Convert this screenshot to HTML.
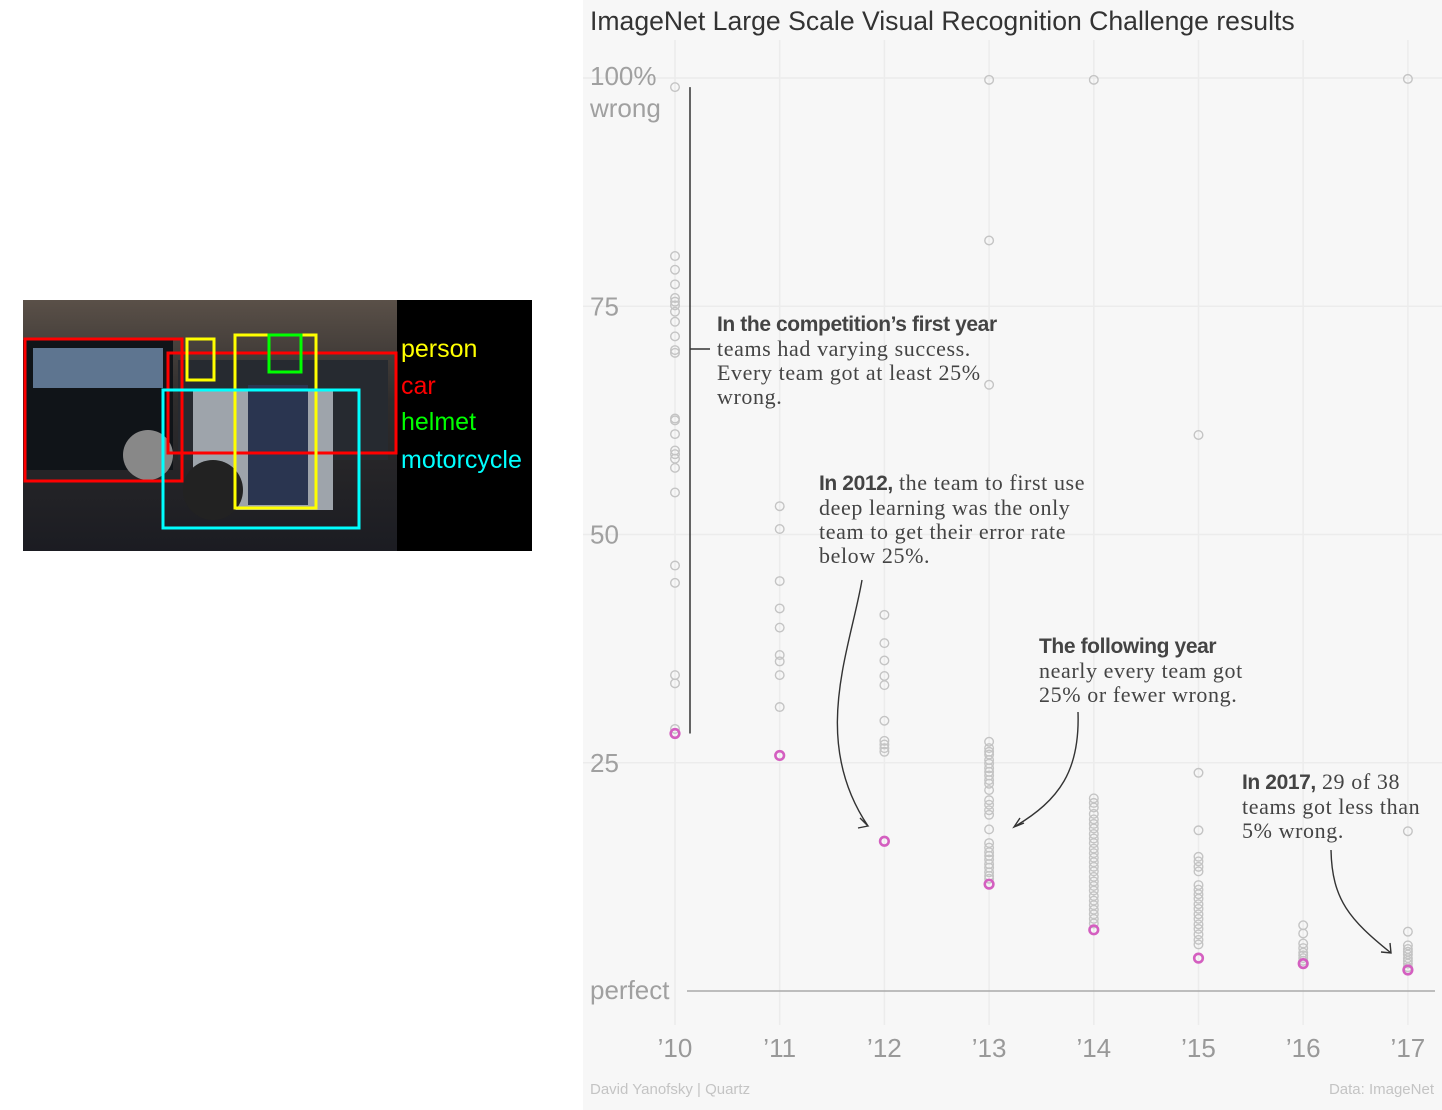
<!DOCTYPE html>
<html><head><meta charset="utf-8">
<style>
body{margin:0;width:1442px;height:1110px;background:#fff;position:relative;overflow:hidden;font-family:"Liberation Sans",sans-serif}
#chart{position:absolute;left:583px;top:0;width:859px;height:1110px;background:#f7f7f7}
.ser{font-family:"Liberation Serif",serif;font-size:22px;letter-spacing:0.6px;color:#444;line-height:24px;position:absolute;white-space:nowrap}
.ser b{font-family:"Liberation Sans",sans-serif;font-weight:bold;letter-spacing:-0.4px;font-size:21px;color:#444}
</style></head><body>
<div style="position:absolute;left:23px;top:300px;width:509px;height:251px;background:#000">
<svg width="509" height="251">
<defs><linearGradient id="g1" x1="0" y1="0" x2="0" y2="1"><stop offset="0" stop-color="#5a5048"/><stop offset="0.4" stop-color="#2e2c2c"/><stop offset="1" stop-color="#1b1c22"/></linearGradient></defs>
<rect x="0" y="0" width="374" height="251" fill="url(#g1)"/>
<rect x="0" y="40" width="150" height="130" fill="#101418"/>
<rect x="10" y="48" width="130" height="40" fill="#5e7590"/>
<circle cx="125" cy="155" r="25" fill="#888"/>
<rect x="155" y="60" width="210" height="100" fill="#262a30"/>
<rect x="170" y="90" width="140" height="120" fill="#9ea4ab"/>
<rect x="225" y="85" width="60" height="120" fill="#2a3550"/>
<circle cx="190" cy="190" r="30" fill="#222"/>
</svg>
</div>
<svg style="position:absolute;left:0;top:0" width="583" height="600">
<g fill="none" stroke-width="3">
<rect x="25" y="339" width="157" height="142" stroke="#f00"/>
<rect x="168" y="353" width="228" height="100" stroke="#f00"/>
<rect x="187" y="339" width="27" height="41" stroke="#ff0"/>
<rect x="235" y="335" width="81" height="173" stroke="#ff0"/>
<rect x="269" y="335" width="32" height="37" stroke="#0f0"/>
<rect x="163" y="390" width="196" height="138" stroke="#0ff"/>
</g>
<g font-family="Liberation Sans, sans-serif" font-size="25">
<text x="401" y="357" fill="#ff0">person</text>
<text x="401" y="394" fill="#f00">car</text>
<text x="401" y="430" fill="#0f0">helmet</text>
<text x="401" y="468" fill="#0ff">motorcycle</text>
</g></svg>

<div id="chart"></div>
<svg id="svg" style="position:absolute;left:0;top:0" width="1442" height="1110"></svg>

<div style="position:absolute;left:590px;top:6px;font-size:26.6px;color:#333">ImageNet Large Scale Visual Recognition Challenge results</div>
<div class="ser" style="left:717px;top:312px"><b>In the competition’s first year</b><br>teams had varying success.<br>Every team got at least 25%<br>wrong.</div>
<div class="ser" style="left:819px;top:471px"><b>In 2012,</b> the team to first use<br>deep learning was the only<br>team to get their error rate<br>below 25%.</div>
<div class="ser" style="left:1039px;top:634px"><b>The following year</b><br>nearly every team got<br>25% or fewer wrong.</div>
<div class="ser" style="left:1242px;top:770px"><b>In 2017,</b> 29 of 38<br>teams got less than<br>5% wrong.</div>
<div style="position:absolute;left:590px;top:1081px;font-size:15px;color:#c4c4c4">David Yanofsky | Quartz</div>
<div style="position:absolute;right:8px;top:1081px;font-size:15px;color:#c4c4c4">Data: ImageNet</div>

<script>
const years=['\u201910','\u201911','\u201912','\u201913','\u201914','\u201915','\u201916','\u201917'];
const yTicks=[25,50,75];
const y2010=[99,80.5,79,77.4,75.9,75.5,75.1,74.4,73.3,71.7,70.2,69.9,62.7,62.5,61,59.2,58.8,58.3,57.3,54.6,46.6,44.7,34.6,33.7,28.7];
const y2011=[53.1,50.6,44.9,41.9,39.8,36.8,36.1,34.6,31.1];
const y2012=[41.2,38.1,36.2,34.5,33.5,29.6,27.4,27.0,26.6,26.2];
const y2013=[99.8,82.2,66.4,27.3,26.6,26.2,25.9,25.3,24.9,24.4,24.0,23.6,23.1,22.7,22.0,20.9,20.4,19.8,19.3,17.7,16.2,15.7,15.2,14.8,14.4,13.9,13.5,13.0,12.6,12.3];
const y2014=[99.8,21.1,20.6,20.1,19.4,18.8,18.3,17.8,17.2,16.7,16.2,15.6,15.1,14.6,14.1,13.6,13.1,12.5,12.0,11.5,11.0,10.4,9.9,9.4,8.9,8.4,7.9,7.4];
const y2015=[60.9,23.9,17.6,14.7,14.2,13.6,13.1,11.6,11.1,10.6,10.1,9.5,9.0,8.4,7.9,7.3,6.8,6.2,5.6,5.1];
const y2016=[7.2,6.3,5.2,4.7,4.2,3.9,3.6,3.3];
const y2017=[99.9,17.5,6.5,5.0,4.6,4.3,4.0,3.6,3.3,3.0,2.6];
const winners=[28.2,25.8,16.4,11.7,6.7,3.6,3.0,2.3];
const series=[y2010,y2011,y2012,y2013,y2014,y2015,y2016,y2017];

const NS='http://www.w3.org/2000/svg';
const svg=document.getElementById('svg');
const xs=i=>675+i*104.7;
const ys=v=>991-v*9.13;
function mk(tag,attrs,parent){const e=document.createElementNS(NS,tag);for(const k in attrs)e.setAttribute(k,attrs[k]);(parent||svg).appendChild(e);return e;}

years.forEach((y,i)=>{
  const l=mk('line',{x1:xs(i),x2:xs(i),y1:40,y2:1025,stroke:'#ececec','stroke-width':1.5});
  
  
  const t=mk('text',{x:xs(i),y:1057,'text-anchor':'middle','font-size':26,fill:'#999','font-family':'Liberation Sans, sans-serif'});
  t.textContent=y;
  
  
});
[100].concat(yTicks).forEach(v=>{
  const l=mk('line',{x1:583,x2:1442,y1:ys(v),y2:ys(v),stroke:'#ececec','stroke-width':1.5});
  
  
});
yTicks.forEach(v=>{
  const t=mk('text',{x:590,y:ys(v)+9,'font-size':26,fill:'#a0a0a0','font-family':'Liberation Sans, sans-serif'});
  t.textContent=v;
  
  
});
[['100%',ys(100)+7],['wrong',ys(100)+39]].forEach(([s,y])=>{
  const t=mk('text',{x:590,y:y,'font-size':26,fill:'#a0a0a0','font-family':'Liberation Sans, sans-serif'});
  t.textContent=s;
  
  
});
const pf=mk('text',{x:590,y:ys(0)+8,'font-size':26,fill:'#a0a0a0','font-family':'Liberation Sans, sans-serif'});
pf.textContent='perfect';


const base=mk('line',{x1:687,x2:1435,y1:ys(0),y2:ys(0),stroke:'#aaa','stroke-width':1.5});



const b1=mk('path',{d:`M690 ${ys(99)} V${ys(28.2)} M690 349 H710`,stroke:'#333','stroke-width':1.5,fill:'none'});


const arrows=['M862 580 C850 650 810 740 868 826 M860 818 L868 826 L858 828',
 'M1078 712 C1080 770 1060 800 1014 827 M1024 823 L1014 827 L1020 818',
 'M1331 850 C1332 900 1350 920 1391 953 M1381 952 L1391 953 L1390 943'];
arrows.forEach(d=>{
  const a=mk('path',{d:d,stroke:'#333','stroke-width':1.4,fill:'none'});
  
  
});

series.forEach((arr,i)=>{
  arr.forEach(v=>{
    const c=mk('circle',{cx:xs(i),cy:ys(v),r:4.3,fill:'none',stroke:'#c4c4c4','stroke-width':1.4});
    
    
  });
});
winners.forEach((v,i)=>{
  const c=mk('circle',{cx:xs(i),cy:ys(v),r:4.3,fill:'none',stroke:'#d45fc0','stroke-width':2.6});
  
  
});
</script>
</body></html>
